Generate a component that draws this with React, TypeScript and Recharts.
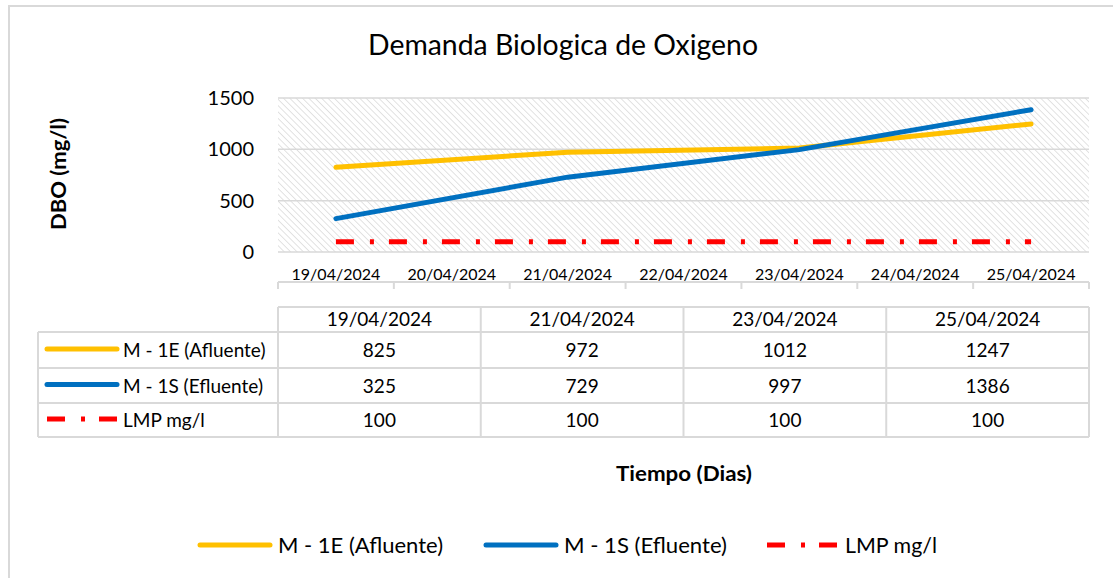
import React from 'react';
import { LineChart, Line, XAxis, YAxis, CartesianGrid } from 'recharts';

const categories = ['19/04/2024', '20/04/2024', '21/04/2024', '22/04/2024', '23/04/2024', '24/04/2024', '25/04/2024'];
const sampleDates = ['19/04/2024', '21/04/2024', '23/04/2024', '25/04/2024'];
const afluente = [825, 972, 1012, 1247];
const efluente = [325, 729, 997, 1386];
const lmp = [100, 100, 100, 100];
const yTicks = [0, 500, 1000, 1500];
const seriesNames = ['M - 1E (Afluente)', 'M - 1S (Efluente)', 'LMP mg/l'];
const seriesColors = ['#FFC000', '#0070C0', '#FF0000'];
const titleText = 'Demanda Biologica de Oxigeno';
const xTitle = 'Tiempo (Dias)';
const yTitle = 'DBO (mg/l)';

const series = [
  { key: 'afluente', name: seriesNames[0], values: afluente, color: seriesColors[0], dashed: false },
  { key: 'efluente', name: seriesNames[1], values: efluente, color: seriesColors[1], dashed: false },
  { key: 'lmp', name: seriesNames[2], values: lmp, color: seriesColors[2], dashed: true },
];

const data = sampleDates.map((d, i) => {
  const row: any = { x: categories.indexOf(d) };
  series.forEach((s) => (row[s.key] = s.values[i]));
  return row;
});

const labelTicks = categories.map((_, i) => i);
const boundaryTicks = [...categories.map((_, i) => i - 0.5), categories.length - 0.5];

const W = 1113;
const H = 578;
const PLOT_L = 278;
const PLOT_R = 1089;
const PLOT_T = 98;
const PLOT_B = 252;
const YAXIS_W = 60;
const FONT = 'Lato, "Noto Sans", sans-serif';
const GRID = '#D9D9D9';

// table layout
const TBL_L = 38;
const TBL_T = 307;
const ROW_Y = [332, 368, 403, 437];
const colW = (PLOT_R - PLOT_L) / sampleDates.length;

const LEG_Y = 545;
const legendLayout = [
  { lx: 200, tx: 278, tl: 165 },
  { lx: 486, tx: 564, tl: 163 },
  { lx: 767, tx: 845, tl: 92 },
];

export default function App() {
  return (
    <div style={{ position: 'absolute', left: 0, top: 0, width: W, height: H, background: '#fff', fontFamily: FONT, overflow: 'hidden' }}>
      <svg width={0} height={0} style={{ position: 'absolute' }}>
        <defs>
          <pattern id="hatch" width="4.5" height="4.5" patternUnits="userSpaceOnUse" patternTransform="rotate(-45)">
            <rect width="4.5" height="4.5" fill="#ffffff" />
            <line x1="0" y1="0" x2="0" y2="4.5" stroke="#D6D6D6" strokeWidth="1.4" />
          </pattern>
        </defs>
      </svg>
      <div style={{ position: 'absolute', left: 0, top: 0 }}>
        <LineChart
          width={W}
          height={H}
          data={data}
          margin={{ top: PLOT_T, right: W - PLOT_R, left: PLOT_L - YAXIS_W, bottom: H - PLOT_B - 31 }}
        >
          <CartesianGrid vertical={false} stroke={GRID} strokeWidth={1.5} fill="url(#hatch)" fillOpacity={1} />
          <XAxis
            xAxisId="marks"
            type="number"
            dataKey="x"
            domain={[-0.5, categories.length - 0.5]}
            ticks={boundaryTicks}
            interval={0}
            tickFormatter={() => ''}
            height={1}
            tickSize={7}
            axisLine={{ stroke: GRID, strokeWidth: 2 }}
            tickLine={{ stroke: GRID, strokeWidth: 2 }}
            allowDataOverflow
          />
          <XAxis
            xAxisId="labels"
            type="number"
            dataKey="x"
            domain={[-0.5, categories.length - 0.5]}
            ticks={labelTicks}
            interval={0}
            tickFormatter={(v: number) => categories[v] ?? ''}
            height={30}
            tickSize={0}
            tickMargin={17}
            axisLine={false}
            tickLine={false}
            tick={{ fontSize: 16, fill: '#000', fontFamily: FONT }}
            allowDataOverflow
          />
          <YAxis
            type="number"
            domain={[0, 1500]}
            ticks={yTicks}
            width={YAXIS_W}
            axisLine={false}
            tickLine={false}
            tickSize={0}
            tickMargin={24}
            tick={{ fontSize: 20, fill: '#000', fontFamily: FONT }}
          />
          {series.map((s) => (
            <Line
              key={s.key}
              xAxisId="labels"
              type="linear"
              dataKey={s.key}
              name={s.name}
              stroke={s.color}
              strokeWidth={5}
              strokeLinecap={s.dashed ? 'butt' : 'round'}
              strokeDasharray={s.dashed ? '18 16 4 15' : undefined}
              dot={false}
              activeDot={false}
              isAnimationActive={false}
            />
          ))}
        </LineChart>
      </div>
      <svg width={W} height={H} style={{ position: 'absolute', left: 0, top: 0, pointerEvents: 'none' }} fontFamily={FONT}>
        <rect x={9} y={6} width={1300} height={800} fill="none" stroke={GRID} strokeWidth={2} />
        <text x={563} y={55} fontSize={28} textAnchor="middle" fill="#000" textLength={390} lengthAdjust="spacingAndGlyphs">
          {titleText}
        </text>
        <text transform="translate(66,174) rotate(-90)" fontSize={20} fontWeight="bold" textAnchor="middle" fill="#000" textLength={112} lengthAdjust="spacingAndGlyphs">
          {yTitle}
        </text>
        <text x={684} y={481} fontSize={21} fontWeight="bold" textAnchor="middle" fill="#000" textLength={136} lengthAdjust="spacingAndGlyphs">
          {xTitle}
        </text>
        {/* data table */}
        <g stroke={GRID} strokeWidth={2}>
          <line x1={PLOT_L} y1={TBL_T} x2={PLOT_R} y2={TBL_T} />
          {ROW_Y.map((y) => (
            <line key={y} x1={TBL_L} y1={y} x2={PLOT_R} y2={y} />
          ))}
          <line x1={TBL_L} y1={ROW_Y[0]} x2={TBL_L} y2={ROW_Y[ROW_Y.length - 1]} />
          {[...sampleDates.map((_, i) => i), sampleDates.length].map((i) => (
            <line key={i} x1={PLOT_L + i * colW} y1={TBL_T} x2={PLOT_L + i * colW} y2={ROW_Y[ROW_Y.length - 1]} />
          ))}
        </g>
        {sampleDates.map((d, i) => (
          <text key={d} x={PLOT_L + (i + 0.5) * colW} y={326} fontSize={19} textAnchor="middle" fill="#000">
            {d}
          </text>
        ))}
        {series.map((s, r) => {
          const yMid = (ROW_Y[r] + ROW_Y[r + 1]) / 2;
          return (
            <g key={s.key}>
              <line
                x1={47}
                x2={117}
                y1={yMid - 1}
                y2={yMid - 1}
                stroke={s.color}
                strokeWidth={5}
                strokeLinecap={s.dashed ? 'butt' : 'round'}
                strokeDasharray={s.dashed ? '18 16 4 14' : undefined}
              />
              <text x={123} y={yMid + 7} fontSize={19} fill="#000">
                {s.name}
              </text>
              {s.values.map((v, i) => (
                <text key={i} x={PLOT_L + (i + 0.5) * colW} y={yMid + 7} fontSize={19} textAnchor="middle" fill="#000">
                  {v}
                </text>
              ))}
            </g>
          );
        })}
        {/* legend */}
        {series.map((s, i) => {
          const L = legendLayout[i];
          return (
            <g key={s.key}>
              <line
                x1={L.lx}
                x2={L.lx + 70}
                y1={LEG_Y}
                y2={LEG_Y}
                stroke={s.color}
                strokeWidth={5}
                strokeLinecap={s.dashed ? 'butt' : 'round'}
                strokeDasharray={s.dashed ? '18 16 4 14' : undefined}
              />
              <text x={L.tx} y={LEG_Y + 8} fontSize={21} fill="#000" textLength={L.tl} lengthAdjust="spacingAndGlyphs">
                {s.name}
              </text>
            </g>
          );
        })}
      </svg>
    </div>
  );
}
